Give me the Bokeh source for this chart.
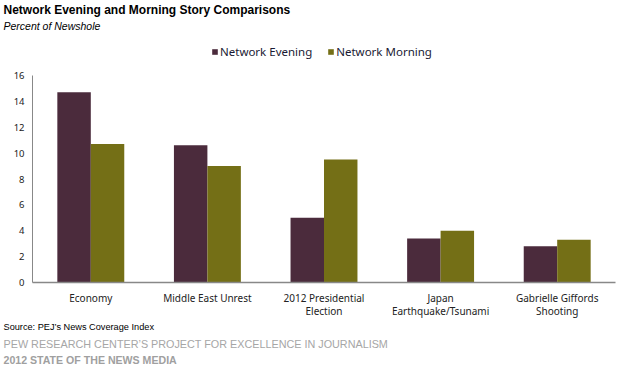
from bokeh.plotting import figure
from bokeh.models import (Range1d, LinearAxis, FixedTicker, Label, Legend, LegendItem,
                          ColumnDataSource)
from bokeh.transform import dodge
from bokeh.embed import file_html
from bokeh.resources import INLINE

# ---- data ----
categories = ["Economy", "Middle East Unrest", "2012 Presidential", "Japan", "Gabrielle Giffords"]
categories_line2 = ["", "", "Election", "Earthquake/Tsunami", "Shooting"]
evening = [14.7, 10.6, 5.0, 3.4, 2.8]
morning = [10.7, 9.0, 9.5, 4.0, 3.3]
y_ticks = [0, 2, 4, 6, 8, 10, 12, 14, 16]
series_names = ["Network Evening", "Network Morning"]

# ---- layout (pixels) ----
W, H = 620, 365
PLOT_L, PLOT_R, PLOT_T, PLOT_B = 32, 615, 75, 282
Y_MAX = 16
n = len(categories)
px_x = (PLOT_R - PLOT_L) / n
px_y = (PLOT_B - PLOT_T) / Y_MAX
x_start = -0.5 - PLOT_L / px_x
x_end = n - 0.5 + (W - PLOT_R) / px_x
y_start = -(H - PLOT_B) / px_y
y_end = Y_MAX + PLOT_T / px_y

EVE = "#4B2B3C"
MOR = "#746F16"
BAR_W = 0.287

p = figure(width=W, height=H, x_range=Range1d(x_start, x_end), y_range=Range1d(y_start, y_end),
           x_axis_type=None, y_axis_type=None, output_backend="svg", toolbar_location=None,
           min_border=0)
p.outline_line_color = None
p.background_fill_color = "white"
p.border_fill_color = "white"

src = ColumnDataSource(dict(pos=list(range(n)), eve=evening, mor=morning))
r1 = p.vbar(x=dodge("pos", -BAR_W / 2), top="eve", width=BAR_W, source=src,
            fill_color=EVE, line_color=None)
r2 = p.vbar(x=dodge("pos", BAR_W / 2), top="mor", width=BAR_W, source=src,
            fill_color=MOR, line_color=None)

# y axis
yaxis = LinearAxis(fixed_location=-0.5, bounds=(0, Y_MAX), ticker=FixedTicker(ticks=y_ticks))
yaxis.major_tick_line_color = None
yaxis.minor_tick_line_color = None
yaxis.major_tick_out = 0
yaxis.major_tick_in = 0
yaxis.axis_line_color = "#888888"
yaxis.major_label_text_font = "Noto Sans"
yaxis.major_label_text_font_size = "9.5px"
yaxis.major_label_text_color = "#222222"
yaxis.major_label_standoff = 8
p.add_layout(yaxis, "left")

# x axis (two label rows)
def make_xaxis(labels, standoff, line_color):
    ax = LinearAxis(fixed_location=0, bounds=(-0.5, n - 0.5),
                    ticker=FixedTicker(ticks=list(range(n))))
    ax.major_label_overrides = {i: lbl for i, lbl in enumerate(labels)}
    ax.major_tick_line_color = None
    ax.minor_tick_line_color = None
    ax.major_tick_out = 0
    ax.major_tick_in = 0
    ax.axis_line_color = line_color
    ax.axis_line_width = 1.5
    ax.major_label_text_font = "Noto Sans"
    ax.major_label_text_font_size = "10px"
    ax.major_label_text_color = "#222222"
    ax.major_label_standoff = standoff
    p.add_layout(ax, "below")

make_xaxis(categories_line2, 21, None)
make_xaxis(categories, 8, "#888888")

legend = Legend(items=[LegendItem(label=series_names[0], renderers=[r1]),
                       LegendItem(label=series_names[1], renderers=[r2])],
                orientation="horizontal", location=(211, H - 49 - 10),
                border_line_color=None, background_fill_alpha=0,
                padding=0, margin=0, spacing=15, glyph_width=7, glyph_height=7,
                label_standoff=2, label_text_font="Noto Sans",
                label_text_font_size="11.5px", label_text_color="#1a1a33")
p.add_layout(legend, "center")

def lab(text, x, y_from_top, size, color, style="normal", font="Liberation Sans"):
    p.add_layout(Label(x=x, y=H - y_from_top, x_units="screen", y_units="screen", text=text,
                       text_font=font, text_font_size=size, text_color=color,
                       text_font_style=style, text_baseline="middle", text_align="left"))

lab("Network Evening and Morning  Story Comparisons", 3, 9, "12px", "#000000", "bold")
lab("Percent of Newshole", 3, 25, "10.5px", "#000000", "italic")
lab("Source: PEJ\u2019s News Coverage Index", 3, 326, "9.2px", "#000000")
lab("PEW RESEARCH CENTER\u2019S PROJECT FOR EXCELLENCE IN JOURNALISM", 3, 343, "10.8px", "#A6A6A6")
lab("2012 STATE OF THE NEWS MEDIA", 3, 359, "10.6px", "#A0A0A0", "bold")

open("out.html", "w").write(file_html(p, INLINE))
